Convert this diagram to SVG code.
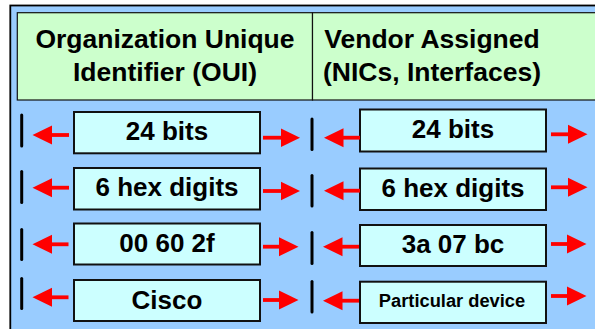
<svg xmlns="http://www.w3.org/2000/svg" width="595" height="329" viewBox="0 0 595 329">
<style>
.frame{fill:#99CCFF;stroke:#000;stroke-width:1.8}
.hdr{fill:#CCFFCC;stroke:#111;stroke-width:1.2}
.box{fill:#CCFFFF;stroke:#111;stroke-width:2}
.ht{font-family:"Liberation Sans",Arial,sans-serif;font-weight:bold;font-size:26.5px;fill:#000;text-anchor:middle}
.bt{font-family:"Liberation Sans",Arial,sans-serif;font-weight:bold;font-size:26px;fill:#000;text-anchor:middle}
.st{font-family:"Liberation Sans",Arial,sans-serif;font-weight:bold;font-size:18.3px;fill:#000;text-anchor:middle}
.bar{stroke:#000;stroke-width:3;stroke-linecap:round}
.arr{stroke:#FF0000;stroke-width:3.8;fill:none;marker-end:url(#ah)}
</style>
<defs>
<marker id="ah" viewBox="0 0 20 20" refX="9.5" refY="10" markerWidth="20" markerHeight="20" markerUnits="userSpaceOnUse" orient="auto">
<path d="M0,0.5 L19.5,10 L0,19.5 z" fill="#FF0000"/>
</marker>
</defs>
<rect class="frame" x="10.3" y="5.5" width="600" height="340"/>
<g id="hdr-oui">
<rect class="hdr" x="17.3" y="12.7" width="295.2" height="87.3"/>
<text class="ht" x="165" y="48">Organization Unique</text>
<text class="ht" x="165" y="81">Identifier (OUI)</text>
</g>
<g id="hdr-vendor">
<rect class="hdr" x="312.5" y="12.7" width="300" height="87.3"/>
<text class="ht" x="432" y="48">Vendor Assigned</text>
<text class="ht" x="432" y="81">(NICs, Interfaces)</text>
</g>
<g id="oui-bits"><rect class="box" x="74" y="112" width="186" height="41.3"/><text class="bt" x="167" y="140">24 bits</text></g>
<g id="oui-hex"><rect class="box" x="74" y="168" width="186" height="41.5"/><text class="bt" x="167" y="196">6 hex digits</text></g>
<g id="oui-value"><rect class="box" x="74" y="223.5" width="186" height="41"/><text class="bt" x="167" y="252">00 60 2f</text></g>
<g id="oui-name"><rect class="box" x="74" y="280" width="186" height="41"/><text class="bt" x="167" y="308.5">Cisco</text></g>
<g id="vnd-bits"><rect class="box" x="360" y="109.5" width="186" height="42"/><text class="bt" x="453" y="138">24 bits</text></g>
<g id="vnd-hex"><rect class="box" x="360" y="168.5" width="186" height="41.5"/><text class="bt" x="453" y="196.7">6 hex digits</text></g>
<g id="vnd-value"><rect class="box" x="360" y="225" width="186" height="41"/><text class="bt" x="453" y="253.3">3a 07 bc</text></g>
<g id="vnd-name"><rect class="box" x="360" y="281.7" width="186" height="41.3"/><text class="st" x="452" y="306.7">Particular device</text></g>
<g id="ticks">
<line class="bar" x1="21.7" y1="115" x2="21.7" y2="146"/>
<line class="bar" x1="21.7" y1="171.5" x2="21.7" y2="202.5"/>
<line class="bar" x1="21.7" y1="229.5" x2="21.7" y2="259.5"/>
<line class="bar" x1="21.7" y1="278.5" x2="21.7" y2="308.5"/>
<line class="bar" x1="312" y1="119" x2="312" y2="149.5"/>
<line class="bar" x1="312" y1="175.5" x2="312" y2="206"/>
<line class="bar" x1="312" y1="232.5" x2="312" y2="263.5"/>
<line class="bar" x1="312" y1="281.5" x2="312" y2="312"/>
</g>
<g id="connectors">
<line class="arr" x1="69" y1="135" x2="42.5" y2="135"/>
<line class="arr" x1="263" y1="137.7" x2="290" y2="137.7"/>
<line class="arr" x1="360" y1="137.7" x2="334" y2="137.7"/>
<line class="arr" x1="551" y1="134.3" x2="577.5" y2="134.3"/>
<line class="arr" x1="69" y1="187.7" x2="42.5" y2="187.7"/>
<line class="arr" x1="263" y1="191" x2="290" y2="191"/>
<line class="arr" x1="360" y1="190.7" x2="334" y2="190.7"/>
<line class="arr" x1="551" y1="187.3" x2="577.5" y2="187.3"/>
<line class="arr" x1="68.5" y1="244.3" x2="42.5" y2="244.3"/>
<line class="arr" x1="263" y1="246.7" x2="288.5" y2="246.7"/>
<line class="arr" x1="359" y1="246.7" x2="333" y2="246.7"/>
<line class="arr" x1="551" y1="244" x2="576.5" y2="244"/>
<line class="arr" x1="68.5" y1="297.3" x2="42.5" y2="297.3"/>
<line class="arr" x1="263" y1="300" x2="288.5" y2="300"/>
<line class="arr" x1="359" y1="300.7" x2="333" y2="300.7"/>
<line class="arr" x1="551" y1="296" x2="576.5" y2="296"/>
</g>
</svg>
